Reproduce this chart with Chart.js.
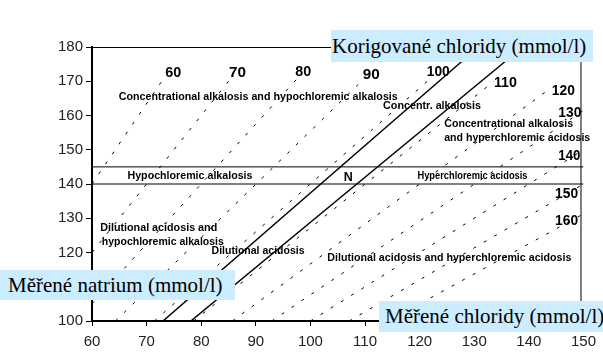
<!DOCTYPE html>
<html>
<head>
<meta charset="utf-8">
<script src="https://cdn.jsdelivr.net/npm/chart.js@4/dist/chart.umd.min.js"></script>
<style>
  html, body { margin: 0; padding: 0; background: #fff; }
  #wrap { position: relative; width: 603px; height: 361px; overflow: hidden; }
  .ttl {
    position: absolute; background: #ccecff; color: #000;
    font-family: "Liberation Serif", "Times New Roman", serif; font-size: 21px;
    white-space: nowrap; box-sizing: border-box;
  }
</style>
</head>
<body>
<div id="wrap">
  <canvas id="c"></canvas>
  <div class="ttl" style="left:331px;top:30px;width:262px;height:32px;line-height:32px;padding-left:1px;">Korigované chloridy (mmol/l)</div>
  <div class="ttl" style="left:0;top:270px;width:235px;height:30px;line-height:30px;padding-left:8px;">Měřené natrium (mmol/l)</div>
  <div class="ttl" style="left:379px;top:301px;width:224px;height:31px;line-height:31px;padding-left:6px;">Měřené chloridy (mmol/l)</div>
</div>
<script>
// Měřené chloridy (x) vs. měřené natrium (y)
const xTicks = [60, 70, 80, 90, 100, 110, 120, 130, 140, 150];
const yTicks = [100, 110, 120, 130, 140, 150, 160, 170, 180];

// izolinie korigovaných chloridů: [start, konec]
const isoNames = ["60", "70", "80", "90", "100", "110", "120", "130", "140", "150", "160"];
const isoStartX = [60, 60, 60, 64.3, 71.4, 78.6, 85.7, 92.9, 100, 107.1, 114.3];
const isoStartY = [140, 120, 105, 100, 100, 100, 100, 100, 100, 100, 100];
const isoEndX = [73.2, 85.5, 97.7, 110, 121.4, 133.6, 144, 150, 150, 150, 150];
const isoEndY = [171, 171, 171, 171, 170, 170, 168, 161.5, 150, 140, 131.3];

// plné čáry (hranice normy)
const normLowX = [73, 128.6];
const normLowY = [100, 177];
const normHighX = [78.1, 136.6];
const normHighY = [100, 177];

// vodorovné čáry natria
const naLow = [140, 140];
const naHigh = [145, 145];
const naX = [60, 150];

// popisky oblastí
const zoneTexts = [
  "Concentrational alkalosis and hypochloremic alkalosis",
  "Concentr. alkalosis",
  "Concentrational alkalosis",
  "and hyperchloremic acidosis",
  "Hypochloremic alkalosis",
  "Hyperchloremic acidosis",
  "Dilutional acidosis and",
  "hypochloremic alkalosis",
  "Dilutional acidosis",
  "Dilutional acidosis and hyperchloremic acidosis",
];

// umístění popisků: [x, y] v jednotkách os, šířka v px
const zonePos = [
  [64.9, 165.4, 279], [113.3, 162.7, 98], [124.5, 157.5, 129], [124.5, 153.5, 146],
  [66.5, 142.3, 125], [119.6, 142.3, 110], [61.5, 127.2, 117], [61.8, 123.0, 122],
  [81.9, 120.4, 93], [103.1, 118.4, 244],
];
const isoLabelPos = [
  [73.4, 172.5, 16], [85.1, 172.5, 17], [97.2, 172.8, 16], [109.6, 172.0, 17],
  [121.3, 172.8, 23], [133.6, 169.6, 23], [144.2, 167.1, 23], [145.4, 160.8, 23],
  [145.4, 148.1, 22], [144.8, 137.2, 23], [144.8, 129.1, 23],
];

const pts = (xs, ys) => xs.map((x, i) => ({ x: x, y: ys[i] }));

const datasets = [];
isoNames.forEach((n, i) => {
  datasets.push({
    label: n,
    data: pts([isoStartX[i], isoEndX[i]], [isoStartY[i], isoEndY[i]]),
    borderColor: "#000",
    borderWidth: 1,
    borderDash: [3, 9],
  });
});
datasets.push({ label: "norm-low", data: pts(normLowX, normLowY), borderColor: "#000", borderWidth: 1.5 });
datasets.push({ label: "norm-high", data: pts(normHighX, normHighY), borderColor: "#000", borderWidth: 1.5 });
datasets.push({ label: "na140", data: pts(naX, naLow), borderColor: "#000", borderWidth: 1 });
datasets.push({ label: "na145", data: pts(naX, naHigh), borderColor: "#000", borderWidth: 1 });

function squeezeText(ctx, text, x, y, w) {
  const nat = ctx.measureText(text).width;
  ctx.save();
  ctx.translate(x, y);
  ctx.scale(w / nat, 1);
  ctx.fillText(text, 0, 0);
  ctx.restore();
}

const overlay = {
  id: "overlay",
  afterDatasetsDraw(chart) {
    const { ctx, chartArea: a, scales } = chart;
    ctx.save();
    // rámeček nahoře a vpravo
    ctx.strokeStyle = "#000";
    ctx.lineWidth = 1;
    ctx.beginPath();
    ctx.moveTo(a.left, a.top + 0.5);
    ctx.lineTo(a.right - 2.5, a.top + 0.5);
    ctx.lineTo(a.right - 2.5, a.bottom);
    ctx.stroke();

    ctx.fillStyle = "#000";
    ctx.textBaseline = "middle";
    ctx.textAlign = "left";
    ctx.font = "bold 11.5px 'Liberation Sans', Arial, sans-serif";
    zoneTexts.forEach((t, i) => {
      const p = zonePos[i];
      squeezeText(ctx, t, scales.x.getPixelForValue(p[0]), scales.y.getPixelForValue(p[1]), p[2]);
    });
    ctx.font = "bold 13px 'Liberation Sans', Arial, sans-serif";
    squeezeText(ctx, "N", scales.x.getPixelForValue(106.1), scales.y.getPixelForValue(142), 9);
    ctx.font = "bold 15px 'Liberation Sans', Arial, sans-serif";
    isoNames.forEach((t, i) => {
      const p = isoLabelPos[i];
      squeezeText(ctx, t, scales.x.getPixelForValue(p[0]), scales.y.getPixelForValue(p[1]), p[2]);
    });
    ctx.restore();
  },
};

const tickFont = { family: "'Liberation Sans Narrow', 'Arial Narrow', 'Liberation Sans', sans-serif", size: 15 };

new Chart(document.getElementById("c"), {
  type: "scatter",
  data: { datasets: datasets },
  options: {
    responsive: true,
    maintainAspectRatio: false,
    animation: false,
    showLine: true,
    elements: { point: { radius: 0, hoverRadius: 0 }, line: { tension: 0, fill: false } },
    layout: { padding: { top: 47, right: 16, left: 0, bottom: 0 } },
    plugins: { legend: { display: false }, tooltip: { enabled: false } },
    scales: {
      x: {
        type: "linear", min: 60, max: 150,
        afterBuildTicks: (s) => { s.ticks = xTicks.map((v) => ({ value: v })); },
        afterFit: (s) => { s.height = 40; },
        border: { display: true, color: "#000", width: 2 },
        grid: { drawOnChartArea: false, drawTicks: true, tickLength: 5, color: "#000" },
        ticks: { color: "#222", font: tickFont, padding: 7, maxRotation: 0 },
      },
      y: {
        type: "linear", min: 100, max: 180,
        afterBuildTicks: (s) => { s.ticks = yTicks.map((v) => ({ value: v })); },
        afterFit: (s) => { s.width = 92; },
        border: { display: true, color: "#000", width: 2 },
        grid: { drawOnChartArea: false, drawTicks: true, tickLength: 6, color: "#000" },
        ticks: { color: "#222", font: tickFont, padding: 3 },
      },
    },
  },
  plugins: [overlay],
});
</script>
</body>
</html>
